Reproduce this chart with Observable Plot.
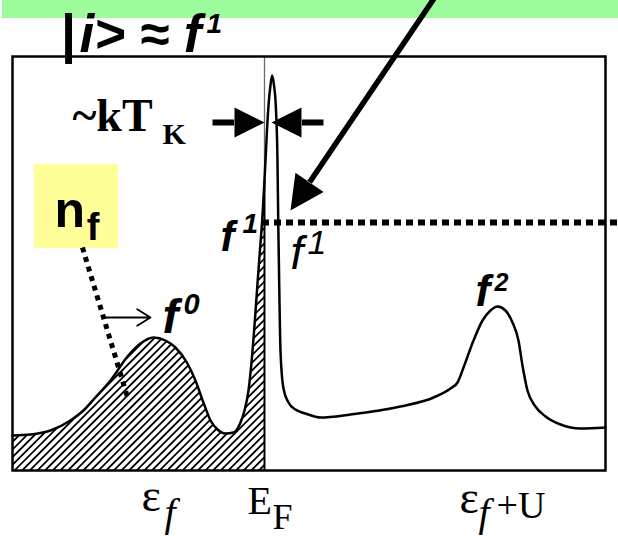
<!DOCTYPE html>
<html>
<head>
<meta charset="utf-8">
<script src="https://cdn.jsdelivr.net/npm/d3@7"></script>
<script src="https://cdn.jsdelivr.net/npm/@observablehq/plot@0.6"></script>
<style>
  html, body { margin: 0; padding: 0; background: #fff; }
  #chart svg { display: block; }
</style>
</head>
<body>
<div id="chart"></div>
<script>
// Impurity spectral function: energy in units of |ε_f| measured from E_F,
// spectral weight in arbitrary units.
const energy = [
  -2.270, -2.108, -1.928, -1.748, -1.631, -1.523, -1.387, -1.234, -1.117, -1.000,
  -0.892, -0.802, -0.694, -0.622, -0.550, -0.486, -0.423, -0.351, -0.279, -0.216,
  -0.180, -0.144, -0.117, -0.090, -0.063, -0.041, -0.018, 0, 0.009, 0.033,
  0.054, 0.069, 0.086, 0.104, 0.117, 0.124, 0.135, 0.144, 0.171, 0.216,
  0.279, 0.369, 0.505, 0.775, 1.225, 1.523, 1.676, 1.739, 1.793, 1.883,
  1.964, 2.036, 2.099, 2.171, 2.234, 2.288, 2.324, 2.369, 2.441, 2.532,
  2.667, 2.847, 3.072
];
const spectralWeight = [
  0.35, 0.36, 0.40, 0.50, 0.60, 0.73, 0.90, 1.14, 1.27, 1.33,
  1.30, 1.23, 1.07, 0.90, 0.68, 0.50, 0.41, 0.37, 0.38, 0.48,
  0.60, 0.80, 1.08, 1.45, 1.87, 2.20, 2.55, 2.90, 3.10, 3.60,
  3.85, 3.95, 3.85, 3.60, 3.10, 2.48, 1.70, 1.20, 0.82, 0.68,
  0.61, 0.57, 0.53, 0.56, 0.64, 0.73, 0.82, 0.88, 1.03, 1.30,
  1.50, 1.60, 1.64, 1.60, 1.48, 1.30, 1.05, 0.80, 0.64, 0.54,
  0.46, 0.42, 0.43
];

// Level positions and their labels under the frame
const levelEnergy = [-1, 0, 2.1];           // ε_f, E_F, ε_f+U
const levelSymbol = ["ε", "E", "ε"];
const levelIndex = ["f", "F", "f", "+U"];

// Configuration labels
const configLabels = ["f", "0", "1", "2"];

const idx = d3.range(energy.length);
const occupied = idx.filter(i => energy[i] <= 0);
const weightAtFermi = spectralWeight[energy.indexOf(0)];
const dashedLevel = spectralWeight[energy.indexOf(0.124)];

const sans = "Liberation Sans, Arial, Helvetica, sans-serif";
const serif = "Liberation Serif, Times New Roman, Times, serif";

// Filled arrow: rectangular shaft plus triangular head, drawn along the vector
function solidArrow(headLength, headHalf, shaft) {
  return {
    draw(context, l) {
      const s = shaft / 2;
      context.moveTo(-s, 0);
      context.lineTo(s, 0);
      context.lineTo(s, -(l - headLength) - 0.5);
      context.lineTo(-s, -(l - headLength) - 0.5);
      context.closePath();
      context.moveTo(0, -l);
      context.lineTo(headHalf, -(l - headLength));
      context.lineTo(-headHalf, -(l - headLength));
      context.closePath();
    }
  };
}

function label(str, x, y, size, opts = {}) {
  return Plot.text([str], {
    x, y,
    fontSize: size,
    fontFamily: opts.family || sans,
    fontWeight: opts.weight || "normal",
    fontStyle: opts.style || "normal",
    textAnchor: "start",
    lineAnchor: "bottom",
    fill: "black"
  });
}

const bi = {weight: "bold", style: "italic"};

const svg = Plot.plot({
  width: 618,
  height: 536,
  marginLeft: 12,
  marginRight: 13,
  marginTop: 56,
  marginBottom: 66,
  style: {background: "transparent", overflow: "hidden"},
  x: {type: "linear", domain: [-2.27, 3.072], axis: null},
  y: {type: "linear", domain: [0, 4.14], axis: null},
  marks: [
    // header strip
    Plot.rect([0], {x1: -2.36, x2: 3.2, y1: 4.52, y2: 4.72, fill: "#9cfc9c"}),
    // n_f highlight box
    Plot.rect([0], {x1: -2.072, x2: -1.315, y1: 2.22, y2: 3.06, fill: "#ffff99"}),
    // occupied part of the spectrum
    Plot.areaY(occupied, {
      x: i => energy[i], y: i => spectralWeight[i],
      fill: "url(#hatch)", curve: "monotone-x"
    }),
    // Fermi level
    Plot.ruleX([0], {y1: weightAtFermi, y2: 4.14, stroke: "#6a6a6a", strokeWidth: 1.3}),
    Plot.ruleX([0], {y1: 0, y2: weightAtFermi, stroke: "black", strokeWidth: 2}),
    // spectral function
    Plot.line(idx, {
      x: i => energy[i], y: i => spectralWeight[i],
      stroke: "black", strokeWidth: 2.5, curve: "monotone-x"
    }),
    Plot.frame({stroke: "black", strokeWidth: 2.5}),
    // dotted f¹ level
    Plot.ruleY([dashedLevel], {x1: -0.018, x2: 3.2, stroke: "black", strokeWidth: 6, strokeDasharray: "7,5"}),
    // dotted pointer from n_f
    Plot.link([0], {x1: -1.640, y1: 2.23, x2: -1.225, y2: 0.70, stroke: "black", strokeWidth: 5, strokeDasharray: "5,5"}),
    // ~kT_K width arrows
    Plot.vector([0], {x: 0, y: 3.48, length: 52, rotate: 90, anchor: "end",
      shape: solidArrow(30, 15, 6), fill: "black", stroke: "none"}),
    Plot.vector([0], {x: 0.063, y: 3.48, length: 52, rotate: 270, anchor: "end",
      shape: solidArrow(30, 15, 6), fill: "black", stroke: "none"}),
    // long pointer onto the f¹ level
    Plot.vector([0], {x: 0.234, y: 2.60, length: 275, rotate: 214.1, anchor: "end",
      shape: solidArrow(34, 17, 5.5), fill: "black", stroke: "none"}),
    // small arrow toward f⁰
    Plot.arrow([0], {x1: -1.450, y1: 1.53, x2: -1.027, y2: 1.53,
      stroke: "black", strokeWidth: 1.8, headLength: 22, headAngle: 64}),

    // header formula |i> ≈ f¹
    label("|", -1.833, 4.19, 54, {weight: "bold"}),
    label("i> ≈ " + configLabels[0], -1.667, 4.19, 53, bi),
    label(configLabels[2], -0.523, 4.38, 28, bi),

    // ~kT_K
    label("~kT", -1.730, 3.40, 46, {family: serif, weight: "bold"}),
    label("K", -0.919, 3.27, 30, {family: serif, weight: "bold"}),

    // n_f
    label("n", -1.892, 2.44, 50, {weight: "bold"}),
    label(configLabels[0], -1.600, 2.31, 38, {weight: "bold"}),

    // f¹ beside the Kondo peak
    label(configLabels[0], -0.396, 2.20, 42, bi),
    label(configLabels[2], -0.198, 2.38, 28, bi),
    // f¹ below the dotted level
    label(configLabels[0], 0.234, 2.02, 46, {style: "italic"}),
    label(configLabels[2], 0.387, 2.17, 34, {style: "italic"}),
    // f⁰
    label(configLabels[0], -0.919, 1.38, 48, bi),
    label(configLabels[1], -0.730, 1.57, 29, bi),
    // f²
    label(configLabels[0], 1.901, 1.65, 44, bi),
    label(configLabels[3], 2.072, 1.80, 25, bi),

    // level labels
    label(levelSymbol[0], levelEnergy[0] - 0.108, -0.40, 46, {family: serif}),
    label(levelIndex[0], levelEnergy[0] + 0.099, -0.55, 40, {family: serif, style: "italic"}),
    label(levelSymbol[1], levelEnergy[1] - 0.153, -0.43, 40, {family: serif}),
    label(levelIndex[1], levelEnergy[1] + 0.072, -0.58, 36, {family: serif}),
    label(levelSymbol[2], levelEnergy[2] - 0.343, -0.42, 46, {family: serif}),
    label(levelIndex[2], levelEnergy[2] - 0.172, -0.55, 40, {family: serif, style: "italic"}),
    label(levelIndex[3], levelEnergy[2] - 0.010, -0.47, 38, {family: serif})
  ]
});

// diagonal hatching for the occupied states
const defs = d3.select(svg).insert("defs", ":first-child");
const pattern = defs.append("pattern")
  .attr("id", "hatch")
  .attr("patternUnits", "userSpaceOnUse")
  .attr("width", 5.4)
  .attr("height", 5.4)
  .attr("patternTransform", "rotate(45)");
pattern.append("line")
  .attr("x1", 2.7).attr("y1", -1)
  .attr("x2", 2.7).attr("y2", 6.4)
  .attr("stroke", "black")
  .attr("stroke-width", 1.8);

document.getElementById("chart").appendChild(svg);
</script>
</body>
</html>
